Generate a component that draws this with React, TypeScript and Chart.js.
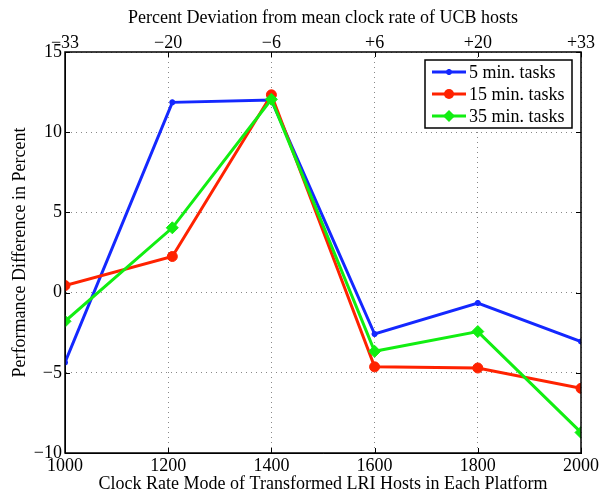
import React, { useEffect, useRef } from "react";
import { Chart, registerables } from "chart.js";

Chart.register(...registerables);

const clockRates = [1000, 1208, 1400, 1600, 1800, 2000];
const tasks5 = [-4.36, 11.86, 12.0, -2.58, -0.65, -3.05];
const tasks15 = [0.44, 2.25, 12.33, -4.63, -4.7, -5.97];
const tasks35 = [-1.79, 4.04, 12.05, -3.66, -2.43, -8.72];
const topTickLabels = ["\u221233", "\u221220", "\u22126", "+6", "+20", "+33"];
const seriesNames = ["5 min. tasks", "15 min. tasks", "35 min. tasks"];

const FONT = "'Liberation Serif', 'Times New Roman', serif";
const FS = 18;

function drawMarker(ctx: CanvasRenderingContext2D, style: string, x: number, y: number, r: number, color: string) {
  ctx.save();
  ctx.fillStyle = color;
  ctx.strokeStyle = color;
  ctx.lineWidth = 2;
  ctx.beginPath();
  if (style === "circle") {
    ctx.arc(x, y, r, 0, Math.PI * 2);
    ctx.fill();
  } else if (style === "rectRot") {
    ctx.moveTo(x, y - r);
    ctx.lineTo(x + r, y);
    ctx.lineTo(x, y + r);
    ctx.lineTo(x - r, y);
    ctx.closePath();
    ctx.fill();
  } else {
    for (let k = 0; k < 4; k++) {
      const ang = (k * Math.PI) / 4;
      ctx.moveTo(x - r * Math.cos(ang), y - r * Math.sin(ang));
      ctx.lineTo(x + r * Math.cos(ang), y + r * Math.sin(ang));
    }
    ctx.stroke();
  }
  ctx.restore();
}

const framePlugin = {
  id: "frameAndLegend",
  afterDatasetsDraw(chart: any) {
    const { ctx, chartArea: a } = chart;
    const x = chart.scales.x;
    const y = chart.scales.y;
    ctx.save();
    ctx.strokeStyle = "#000";
    ctx.lineWidth = 1.5;
    ctx.strokeRect(a.left, a.top, a.right - a.left, a.bottom - a.top);
    const tl = 5;
    ctx.lineWidth = 1;
    ctx.beginPath();
    x.ticks.forEach((t: any) => {
      const px = Math.round(x.getPixelForValue(t.value)) + 0.5;
      ctx.moveTo(px, a.bottom);
      ctx.lineTo(px, a.bottom - tl);
      ctx.moveTo(px, a.top);
      ctx.lineTo(px, a.top + tl);
    });
    y.ticks.forEach((t: any) => {
      const py = Math.round(y.getPixelForValue(t.value)) + 0.5;
      ctx.moveTo(a.left, py);
      ctx.lineTo(a.left + tl, py);
      ctx.moveTo(a.right, py);
      ctx.lineTo(a.right - tl, py);
    });
    ctx.stroke();

    // legend
    const bx = 425, by = 60, bw = 147, bh = 68;
    ctx.fillStyle = "#fff";
    ctx.fillRect(bx, by, bw, bh);
    ctx.strokeStyle = "#000";
    ctx.lineWidth = 1.5;
    ctx.strokeRect(bx, by, bw, bh);
    const rows = [72, 94, 116];
    [0, 1, 2].forEach((di, i) => {
      const ds = chart.data.datasets[di];
      const ry = rows[i];
      ctx.strokeStyle = ds.borderColor;
      ctx.lineWidth = ds.borderWidth;
      ctx.beginPath();
      ctx.moveTo(432, ry);
      ctx.lineTo(466, ry);
      ctx.stroke();
      drawMarker(ctx, ds.pointStyle, 449, ry, ds.pointRadius, ds.borderColor);
      ctx.fillStyle = "#000";
      ctx.font = `${FS}px ${FONT}`;
      ctx.textBaseline = "middle";
      ctx.textAlign = "left";
      ctx.fillText(seriesNames[i], 469, ry + 1);
    });
    ctx.restore();
  },
};

function toPoints(vals: number[]) {
  return vals.map((v, i) => ({ x: clockRates[i], y: v }));
}

export default function App() {
  const ref = useRef<HTMLCanvasElement | null>(null);
  useEffect(() => {
    if (!ref.current) return;
    const blue = "#1428ff";
    const red = "#ff2200";
    const green = "#11ee11";
    const tickFont = { family: FONT, size: FS };
    const chart = new Chart(ref.current, {
      type: "line",
      data: {
        datasets: [
          {
            label: seriesNames[0],
            data: toPoints(tasks5),
            borderColor: blue,
            backgroundColor: blue,
            borderWidth: 3,
            pointStyle: "star",
            pointRadius: 3,
            pointBorderWidth: 2,
            order: 2,
          },
          {
            label: seriesNames[1],
            data: toPoints(tasks15),
            borderColor: red,
            backgroundColor: red,
            borderWidth: 3,
            pointStyle: "circle",
            pointRadius: 5,
            pointBorderWidth: 1,
            order: 1,
          },
          {
            label: seriesNames[2],
            data: toPoints(tasks35),
            borderColor: green,
            backgroundColor: green,
            borderWidth: 3,
            pointStyle: "rectRot",
            pointRadius: 6,
            pointBorderWidth: 1,
            order: 0,
          },
        ] as any,
      },
      options: {
        responsive: false,
        animation: false,
        layout: { padding: { left: 0, right: 18, top: 0, bottom: 0 } },
        plugins: {
          legend: { display: false },
          tooltip: { enabled: false },
        },
        scales: {
          x: {
            type: "linear",
            position: "bottom",
            min: 1000,
            max: 2000,
            ticks: {
              stepSize: 200,
              color: "#000",
              font: tickFont,
              padding: 2,
              maxRotation: 0,
              callback: (v: any) => String(v),
            },
            grid: { color: "#888", lineWidth: 1, drawTicks: false },
            border: { display: true, color: "#000", dash: [1, 4] },
            title: {
              display: true,
              text: "Clock Rate Mode of Transformed LRI Hosts in Each Platform",
              color: "#000",
              font: tickFont,
              padding: { top: 0, bottom: -3 },
            },
            afterFit: (s: any) => {
              s.height = 39;
            },
          },
          x2: {
            type: "linear",
            position: "top",
            min: 1000,
            max: 2000,
            ticks: {
              stepSize: 200,
              color: "#000",
              font: tickFont,
              padding: -2,
              maxRotation: 0,
              callback: (v: any) => {
                const idx = Math.round((Number(v) - 1000) / 200);
                return topTickLabels[idx] ?? "";
              },
            },
            grid: { display: false, drawTicks: false },
            border: { display: false },
            title: {
              display: true,
              text: "Percent Deviation from mean clock rate of UCB hosts",
              color: "#000",
              font: tickFont,
              padding: { top: 7, bottom: 2 },
            },
            afterFit: (s: any) => {
              s.height = 52;
            },
          },
          y: {
            type: "linear",
            min: -10,
            max: 15,
            ticks: {
              stepSize: 5,
              color: "#000",
              font: tickFont,
              padding: 3,
              callback: (v: any) => (Number(v) < 0 ? "\u2212" + Math.abs(Number(v)) : String(v)),
            },
            grid: { color: "#888", lineWidth: 1, drawTicks: false },
            border: { display: true, color: "#000", dash: [1, 4] },
            title: {
              display: true,
              text: "Performance Difference in Percent",
              color: "#000",
              font: tickFont,
              padding: { top: 9, bottom: 0 },
            },
            afterFit: (s: any) => {
              s.width = 65;
            },
          },
        },
      } as any,
      plugins: [framePlugin],
    });
    return () => chart.destroy();
  }, []);
  return (
    <div style={{ position: "absolute", left: 0, top: 0, width: 601, height: 492, background: "#fff" }}>
      <canvas ref={ref} width={601} height={492} style={{ width: 601, height: 492 }} />
    </div>
  );
}
